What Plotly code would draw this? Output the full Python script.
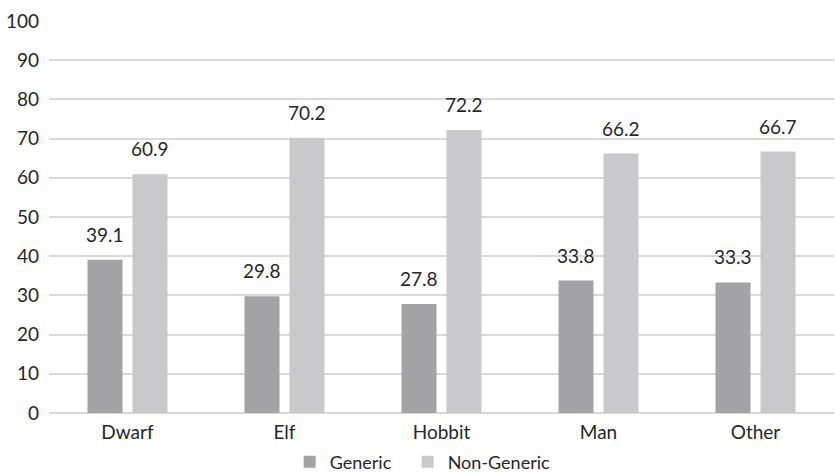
import plotly.graph_objects as go

categories = ["Dwarf", "Elf", "Hobbit", "Man", "Other"]
generic = [39.1, 29.8, 27.8, 33.8, 33.3]
non_generic = [60.9, 70.2, 72.2, 66.2, 66.7]
y_ticks = list(range(0, 101, 10))

FONT = "Lato"
TEXT_COLOR = "#262626"
FS = 19

fig = go.Figure()
fig.add_trace(go.Bar(name="Generic", x=categories, y=generic, marker_color="#A3A3A6",
                     marker_line_width=0, legendwidth=73))
fig.add_trace(go.Bar(name="Non-Generic", x=categories, y=non_generic, marker_color="#C9C9CB",
                     marker_line_width=0))

# value labels above each bar
for i, cat in enumerate(categories):
    for off, vals in ((-0.143, generic), (0.143, non_generic)):
        fig.add_annotation(x=i + off, y=vals[i], text=f"{vals[i]:.1f}", showarrow=False,
                           yanchor="bottom", yshift=12, xref="x", yref="y",
                           font=dict(family=FONT, size=FS, color=TEXT_COLOR))

fig.update_layout(
    width=835, height=472,
    margin=dict(l=49, r=1, t=21, b=59, autoexpand=False),
    paper_bgcolor="white", plot_bgcolor="white",
    barmode="group", bargap=0.427, bargroupgap=0.222,
    font=dict(family=FONT, size=FS, color=TEXT_COLOR),
    showlegend=True,
    legend=dict(orientation="h", x=0.476, xanchor="center",
                y=-0.125, yanchor="middle", yref="paper",
                bgcolor="rgba(0,0,0,0)",
                font=dict(family=FONT, size=18, color=TEXT_COLOR), itemwidth=30,
                traceorder="normal", tracegroupgap=0),
    xaxis=dict(showgrid=False, showline=False, ticks="", tickfont=dict(size=FS),
               ticklabelstandoff=6, automargin=False),
    yaxis=dict(range=[0, 100], tickvals=y_ticks, showgrid=True, gridcolor="#D9D9D9",
               gridwidth=1.5, zeroline=True, zerolinecolor="#D9D9D9", zerolinewidth=1.5,
               ticks="", ticklabelstandoff=9, tickfont=dict(size=FS), automargin=False),
)

fig.write_html("out.html")
